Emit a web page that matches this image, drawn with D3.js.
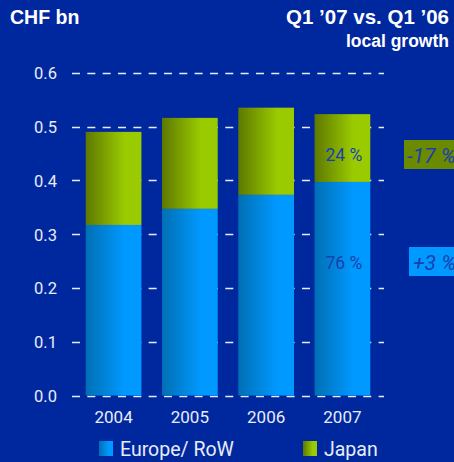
<!DOCTYPE html>
<html><head><meta charset="utf-8">
<script src="https://cdn.jsdelivr.net/npm/d3@7"></script>
<style>html,body{margin:0;padding:0;background:#00289e;}svg{display:block;}</style>
</head><body>
<script>
const years = ["2004","2005","2006","2007"];
const europe = [0.317, 0.347, 0.373, 0.397];
const japan = [0.173, 0.169, 0.162, 0.126];
const yTicks = [0.0, 0.1, 0.2, 0.3, 0.4, 0.5, 0.6];
const shareLabels = {europe: "76 %", japan: "24 %"};
const growthLabels = {europe: "+3 %", japan: "-17 %"};
const seriesNames = ["Europe/ RoW", "Japan"];

const W = 454, H = 462;
const svg = d3.select("body").append("svg").attr("width", W).attr("height", H);
svg.append("rect").attr("width", W).attr("height", H).attr("fill", "#00289e");

const defs = svg.append("defs");
function grad(id, c0, c1) {
  const g = defs.append("linearGradient").attr("id", id).attr("x1", "0").attr("x2", "1").attr("y1", "0").attr("y2", "0");
  g.append("stop").attr("offset", "0").attr("stop-color", c0);
  g.append("stop").attr("offset", "0.7").attr("stop-color", c1);
  g.append("stop").attr("offset", "1").attr("stop-color", c1);
}
grad("gBlue", "#006fb4", "#0099ff");
grad("gOlive", "#5e7800", "#9acb00");

const y = d3.scaleLinear().domain([0, 0.6]).range([395.5, 72.7]);
const x = d3.scaleBand().domain(years).range([72, 384]).paddingInner(0.27).paddingOuter(0.18);

const font = "Roboto, 'Liberation Sans', Arial, sans-serif";
const boldFont = "'Liberation Sans', Arial, Helvetica, sans-serif";

// grid
svg.append("g").selectAll("line").data(yTicks).join("line")
  .attr("x1", 72).attr("x2", 384)
  .attr("y1", d => Math.round(y(d)) + 0.5).attr("y2", d => Math.round(y(d)) + 0.5)
  .attr("stroke", "#e8ecf8").attr("stroke-width", 1.6)
  .attr("stroke-dasharray", "8 7.33");

// y axis labels
const yAxis = d3.axisLeft(y).tickValues(yTicks).tickFormat(d3.format(".1f")).tickSize(0).tickPadding(0);
const ga = svg.append("g").attr("transform", "translate(57,0)").call(yAxis);
ga.select(".domain").remove();
ga.selectAll("text").attr("fill", "#e8ecf8").attr("font-family", font).attr("font-size", 16.5).attr("dy", "0.36em");

// bars
const bars = svg.append("g");
bars.selectAll("rect.eu").data(years).join("rect").attr("class", "eu")
  .attr("x", d => x(d)).attr("width", x.bandwidth())
  .attr("y", (d, i) => y(europe[i])).attr("height", (d, i) => y(0) - y(europe[i]))
  .attr("fill", "url(#gBlue)");
bars.selectAll("rect.jp").data(years).join("rect").attr("class", "jp")
  .attr("x", d => x(d)).attr("width", x.bandwidth())
  .attr("y", (d, i) => y(europe[i] + japan[i])).attr("height", (d, i) => y(europe[i]) - y(europe[i] + japan[i]))
  .attr("fill", "url(#gOlive)");

// share labels in last bar
const li = years.length - 1;
const lx = x(years[li]) + x.bandwidth() / 2;
svg.append("text").attr("x", lx + 1.5).attr("y", 161)
  .attr("text-anchor", "middle").attr("fill", "#1a3fae").attr("font-family", font).attr("font-size", 17.5)
  .text(shareLabels.japan);
svg.append("text").attr("x", lx + 1.5).attr("y", 269)
  .attr("text-anchor", "middle").attr("fill", "#1a3fae").attr("font-family", font).attr("font-size", 17.5)
  .text(shareLabels.europe);

// growth boxes
svg.append("rect").attr("x", 404).attr("y", 140).attr("width", 60).attr("height", 29).attr("fill", "#6a8a00");
svg.append("text").attr("x", 407).attr("y", 162.5).attr("fill", "#1a3fae").attr("font-family", font)
  .attr("font-size", 21).attr("font-style", "italic").text(growthLabels.japan);
svg.append("rect").attr("x", 409).attr("y", 247).attr("width", 55).attr("height", 29).attr("fill", "#0099ff");
svg.append("text").attr("x", 413).attr("y", 269.5).attr("fill", "#1a3fae").attr("font-family", font)
  .attr("font-size", 21).attr("font-style", "italic").text(growthLabels.europe);

// x labels
const xAxis = d3.axisBottom(x).tickSize(0).tickPadding(0);
const gx = svg.append("g").attr("transform", "translate(0,423)").call(xAxis);
gx.select(".domain").remove();
gx.selectAll("text").attr("fill", "#e8ecf8").attr("font-family", font).attr("font-size", 17).attr("dy", "0");

// titles
svg.append("text").attr("x", 10).attr("y", 24).attr("fill", "#fff").attr("font-family", boldFont)
  .attr("font-weight", "bold").attr("font-size", 19.5).text("CHF bn");
svg.append("text").attr("x", 449).attr("y", 24).attr("text-anchor", "end").attr("fill", "#fff").attr("font-family", boldFont)
  .attr("font-weight", "bold").attr("font-size", 20.5).text("Q1 \u201907 vs. Q1 \u201906");
svg.append("text").attr("x", 449).attr("y", 46.5).attr("text-anchor", "end").attr("fill", "#fff").attr("font-family", boldFont)
  .attr("font-weight", "bold").attr("font-size", 17.5).text("local growth");

// legend
const leg = [{name: seriesNames[0], fill: "url(#gBlue)", x: 99}, {name: seriesNames[1], fill: "url(#gOlive)", x: 303}];
const lg = svg.append("g").selectAll("g").data(leg).join("g");
lg.append("rect").attr("x", d => d.x).attr("y", 441).attr("width", 14).attr("height", 15).attr("fill", d => d.fill);
lg.append("text").attr("x", d => d.x + 21).attr("y", 455.5).attr("fill", "#e8ecf8").attr("font-family", font)
  .attr("font-size", 19.5).text(d => d.name);
</script>
</body></html>
